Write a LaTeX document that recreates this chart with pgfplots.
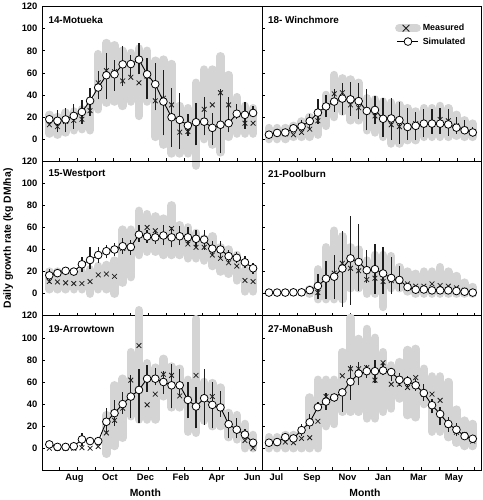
\documentclass[border=0pt]{standalone}
\usepackage{pgfplots}
\pgfplotsset{compat=1.18}
\usepackage{pgfplotstable}
\usepgfplotslibrary{groupplots}
\usepackage{fontspec}
\setmainfont{Liberation Sans}
\definecolor{greyband}{RGB}{212,212,212}
\definecolor{ink}{RGB}{30,30,30}

\pgfplotstableread{
i glo ghi m s elo ehi
0 5 22 13 18 14 22
1 4 20 11.3 16.6 6 26
2 6 24 16 17.8 6 28
3 8 25 17 21 9 32
4 9 27 18 24.6 14 35
5 8 35 25.8 34.7 21 46
6 27 77 51 46.7 36 61.7
7 33 87 62 57.8 36 78
8 34 85 61 58.7 44 71.5
9 30 80 52.7 67.7 48 84
10 34 78 56 68 57 76
11 21 82 51 72 58.7 87
12 34 80 57 58.7 36 73.5
13 2 71 34.7 49.7 26 69
14 -5 72 37 34 3.3 63
15 -13 68 31 19.8 -7 46.7
16 -13 30 6.3 17.4 -9 42
17 -13 28 6.8 12.3 3 23
18 -24 51 15 15.3 -5.6 33
19 0 63 27 15.8 3.3 38
20 -5 63 31 10.2 -5.6 24
21 -12 75 42 13 -13 45
22 2 58 31 14.4 6 38
23 5 38 22 23 18 32
24 5 30 14.4 22 9.3 33.6
25 5 28 14.4 23.7 20 30
}\tabMot

\pgfplotstableread{
i glo ghi m s elo ehi
0 0 10 4 4 4 4
1 0 10 5 5.6 5.6 5.6
2 0 10 4.7 6 6 6
3 2 12 4 9.8 9.8 9.8
4 2 16 6 11.6 7 17
5 2 20 9 16.3 9 22.5
6 4 24 16.6 24 14 36
7 12 40 30 29.6 20 40
8 20 58 41 34 25 45
9 25 55 42 36.7 22 51
10 17 54 31 36 21 52
11 17 51 28.4 34.4 18 51
12 8 37 25 25.5 8 45
13 6 36 21 26.4 14 39
14 2 34 18 18.4 2 37
15 -4 33 13 18.7 -1 37
16 -4 31 11.3 17.2 -4 34
17 -1 28 11.3 11 -1 28
18 -1 25 14 12 -1 25
19 2 28 13 14 2 27
20 2 28 15 14 5 27
21 2 30 17.8 14 5 28
22 2 28 16.6 13.3 3 27
23 3 22 12 10.4 5 20
24 2 17 9 8 8 17
25 2 14 6 6 3 11
}\tabWin

\pgfplotstableread{
i glo ghi m s elo ehi
0 4 20 11 16.6 10 22
1 4 20 10.6 18.6 15 22
2 4 20 9.8 20.7 17 24
3 4 20 9.2 20 20 20
4 4 20 9.2 26.6 20 33
5 0 22 11 30.5 22 42
6 4 25 17 35 28 42
7 4 26 17.8 38.5 32 44
8 0 30 15.7 40 34 46
9 10 58 41 43 36 50
10 15 58 41 42.3 35 49
11 35 75 53 53.5 47 62
12 38 72 60 51.8 46 58
13 38 70 57 51 45 58
14 35 68 52 52.7 44 62
15 35 80 59 51 42 60
16 35 62 52 52 44 61
17 32 60 45 51 45 60
18 32 55 42 49.7 42 58
19 30 50 42 49 40 58
20 25 52 35 40.8 34 48
21 20 42 32 40 32 48
22 18 40 28 34 28 40
23 12 35 25 32.5 28 38
24 2 22 12 28.4 23 34
25 2 20 11 23 18 28
}\tabWes

\pgfplotstableread{
i glo ghi m s elo ehi
0 nan nan 0.5 1 1 1
1 nan nan 0.5 1 1 1
2 nan nan 0.5 1 1 1
3 nan nan 0.5 1.2 1.2 1.2
4 nan nan 0.5 1.2 1.2 1.2
5 0 4 2.4 3.2 3.2 3.2
6 -5 22 1 7 -5 18
7 -5 42 14 13.6 -5 30
8 -5 57 18.6 15.4 -5 35
9 -5 52 27.5 22.8 -12 57
10 5 42 23 32 -10 70
11 5 40 20.7 28.7 2 63
12 0 30 12.7 21.3 10 40
13 0 35 14 22.2 0 45
14 -12 35 11 18.3 0 42
15 5 34 11.8 14.2 0 33
16 5 24 11 12.4 2 25
17 2 20 8.9 6 6 6
18 0 18 6.8 3.6 3.6 3.6
19 0 20 6.8 3.8 3.8 3.8
20 0 20 8.9 3 3 3
21 0 24 7.4 3 3 3
22 0 20 6.8 3 3 3
23 0 16 5.3 2.4 2.4 2.4
24 0 10 3 1.8 1.8 1.8
25 0 6 1 1 1 1
}\tabPoo

\pgfplotstableread{
i glo ghi m s elo ehi
0 nan nan 0 3.5 0 6
1 nan nan 0 1.2 1.2 1.2
2 nan nan 0 1.2 1.2 1.2
3 nan nan 0 1.8 1.8 1.8
4 nan nan 0.5 8 2 14
5 nan nan 0 6.5 6.5 6.5
6 nan nan 1.5 6.5 6.5 6.5
7 -5 30 13.9 24 14 36
8 2 57 25.3 31.8 20 44
9 9.5 63 36.3 40 31 50.7
10 29 87 61.7 46.8 27 66
11 26 125 93 52.8 23 72
12 26 77 39.3 63 51 75
13 26 73 49 63 57 73
14 47 81 67 60 49 70
15 37 74 66 57 36 76.6
16 37 72 47.4 57 47 72
17 15 62 44 43.8 27 60
18 14 117 66 37.8 18 55.7
19 25 60 45 45.3 21.5 72
20 20 59 46.8 39.3 18 60
21 20 55 37 37 28.6 52
22 10 32 22 21.8 9 33
23 8 30 17 16.8 9 27
24 0 22 7 12.4 8 17
25 0 12 0 5 3 8
}\tabArr

\pgfplotstableread{
i glo ghi m s elo ehi
0 0 10 5 5 5 5
1 0 10 5.6 5.6 5.6 5.6
2 0 12 5.6 10 10 10
3 0 12 5 8.9 8.9 8.9
4 0 15 8.9 16.4 11 21.7
5 0 46 9.5 23.5 17 30.7
6 0 62 24.4 37.2 34 42
7 20 62 46.8 42.3 35 49.7
8 22 62 46 46 42 47
9 33 87 65.6 50.6 33 54
10 33 118 72 60.2 44 75
11 33 99 72 67.6 57 78
12 27 108 73 69.8 64 75
13 27 100 61.7 69.8 58.7 79.6
14 33 87 77.5 70.4 66 77
15 36 75 58 69 61 72
16 45 78 58 62 56.6 68
17 30 89 55 60.8 55 65.5
18 28 90 64 57 52 62.5
19 40 72 49 50 43 58
20 15 65 49 39 31.6 45
21 15 65 43.4 31 21 37.5
22 10 60 21 22 15 28.6
23 5 35 14.5 16.8 11 22.7
24 2 25 12.4 11 11 11
25 2 22 6.5 8.6 8.6 8.6
}\tabMon

\newcommand{\panel}[2]{%
  \addplot[draw=none, forget plot, error bars/.cd, y dir=plus, y explicit, error mark=none,
    error bar style={draw=greyband, line width=8.6pt, line cap=round}]
    table[x=i, y=glo, y error plus expr=\thisrow{ghi}-\thisrow{glo}] {#1};
  \addplot[only marks, forget plot, mark=x, mark size=3.4pt, mark options={draw=ink, line width=0.8pt}]
    table[x=i, y=m] {#1};
  \addplot[draw=none, forget plot, error bars/.cd, y dir=plus, y explicit, error mark=none,
    error bar style={draw=ink, line width=1.3pt}]
    table[x=i, y=elo, y error plus expr=\thisrow{ehi}-\thisrow{elo}] {#1};
  \addplot[forget plot, black, line width=0.9pt, mark=*, mark size=3.9pt,
    mark options={fill=white, draw=black, line width=0.8pt}]
    table[x=i, y=s] {#1};
  \node[anchor=west, font=\bfseries\fontsize{10}{12}\selectfont] at (rel axis cs:0.012,0.915) {#2};
}

\pgfplotsset{
  panel/.style={
    scale only axis, width=222.4pt, height=156.5pt,
    xmin=-0.85, xmax=26.1, ymin=-20, ymax=120,
    ytick={0,20,...,120},
    xtick={1.27,3.45,5.63,7.81,9.99,12.17,14.35,16.53,18.71,20.89,23.07,25.25},
    xticklabels={},
    tick align=inside, xtick pos=bottom, ytick pos=left,
    major tick length=3pt,
    tick style={black, line width=0.6pt},
    axis line style={black, line width=0.8pt},
    clip=false,
    /pgf/number format/assume math mode=true,
    tick label style={font=\bfseries\fontsize{9.5}{11}\selectfont},
    xticklabel style={xshift=-3pt},
    yticklabel style={xshift=-1.5pt},
    label style={font=\bfseries\fontsize{10.5}{12}\selectfont},
  }
}

\begin{document}
\begin{tikzpicture}
\begin{groupplot}[group style={group size=2 by 3, horizontal sep=0pt, vertical sep=0pt}, panel]
\nextgroupplot
\panel{\tabMot}{14-Motueka}
\nextgroupplot[yticklabels={},
  legend style={at={(rel axis cs:0.605,0.9)}, anchor=north west, draw=none, fill=none,
    inner sep=0pt, row sep=1.5pt, font=\bfseries\fontsize{9}{10}\selectfont,
    /tikz/every even column/.append style={column sep=0pt}},
  legend cell align=left]
\panel{\tabWin}{18- Winchmore}
\addlegendimage{legend image code/.code={
  \draw[greyband, line width=8pt, line cap=round] (4pt,0pt) -- (22pt,0pt);
  \draw[ink, line width=0.8pt] (7.6pt,-3.4pt) -- (14.4pt,3.4pt) (7.6pt,3.4pt) -- (14.4pt,-3.4pt);}}
\addlegendentry{Measured}
\addlegendimage{legend image code/.code={
  \draw[black, line width=0.9pt] (2pt,0pt) -- (23pt,0pt);
  \draw[black, fill=white, line width=0.8pt] (13pt,0pt) circle (3.9pt);}}
\addlegendentry{Simulated}
\nextgroupplot[ylabel={Daily growth rate (kg DM/ha)}, ylabel style={yshift=2pt}]
\panel{\tabWes}{15-Westport}
\nextgroupplot[yticklabels={}]
\panel{\tabPoo}{21-Poolburn}
\nextgroupplot[xticklabels={,Aug,,Oct,,Dec,,Feb,,Apr,,Jun}, xlabel={Month}, xlabel style={xshift=-7pt}]
\panel{\tabArr}{19-Arrowtown}
\nextgroupplot[yticklabels={}, xticklabels={Jul,,Sep,,Nov,,Jan,,Mar,,May,}, xlabel={Month}, xlabel style={xshift=-7pt}]
\panel{\tabMon}{27-MonaBush}
\end{groupplot}
\end{tikzpicture}
\end{document}
